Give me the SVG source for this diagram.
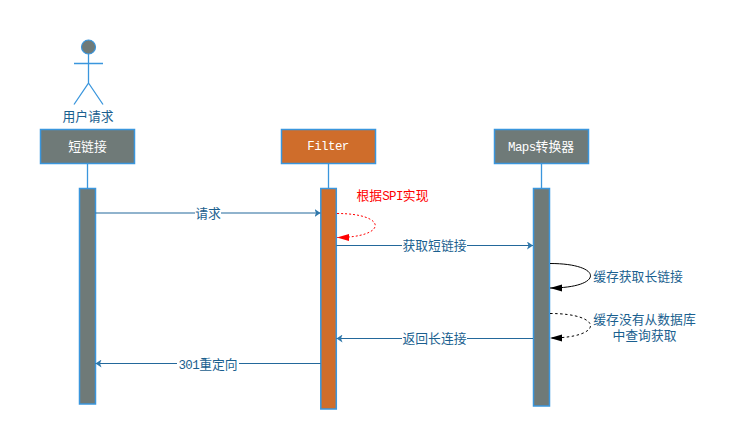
<svg xmlns="http://www.w3.org/2000/svg" width="742" height="447" viewBox="0 0 742 447">
<style>
text{font-family:"Liberation Mono","Noto Sans CJK SC",monospace;font-size:12.8px;text-anchor:middle}
.m{font-size:12.5px;letter-spacing:-0.6px}
.lb{fill:#1a5f8f}
.hd{fill:#fff}
.gr{fill:#6f7a78;stroke:#3a96dd;stroke-width:1.5}
.or{fill:#cf6d2b;stroke:#3a96dd;stroke-width:1.5}
.ll{stroke:#3a96dd;stroke-width:1.3;fill:none}
.msg{stroke:#23689b;stroke-width:1.2;fill:none;marker-end:url(#blue)}
.bg{fill:#fff}
</style>
<defs>
<marker id="blue" markerUnits="userSpaceOnUse" markerWidth="7" markerHeight="8" refX="6" refY="4" orient="auto"><path d="M0 0L6 4L0 8L1.5 4Z" fill="#2f78ab"/></marker>
<marker id="red" markerUnits="userSpaceOnUse" markerWidth="13" markerHeight="8" refX="12" refY="3.500" orient="auto"><path d="M0 0L12 3.500L0 7Z" fill="#f00"/></marker>
<marker id="blk" markerUnits="userSpaceOnUse" markerWidth="13" markerHeight="8" refX="12" refY="3.500" orient="auto"><path d="M0 0L12 3.500L0 7Z" fill="#000"/></marker>
</defs>
<g id="actor">
<circle cx="88.5" cy="47" r="7" fill="#6f7a78" stroke="#3a96dd" stroke-width="1.2"/>
<path class="ll" d="M74 63.5H103M88.5 54V83L74 104.5M88.5 83L103 104.5"/>
<text class="lb" x="88" y="120.500">用户请求</text>
</g>
<g id="node-short">
<line class="ll" x1="87.5" y1="163" x2="87.5" y2="188"/>
<rect class="gr" x="40.5" y="129.5" width="94" height="34"/>
<text class="hd" x="87.500" y="150.500">短链接</text>
<rect class="gr" x="79.5" y="188.5" width="16" height="215.500"/>
</g>
<g id="node-filter">
<line class="ll" x1="328.5" y1="163" x2="328.5" y2="188"/>
<rect class="or" x="281.5" y="129.5" width="94" height="34"/>
<text class="hd m" x="328" y="150">Filter</text>
<rect class="or" x="320.8" y="188.5" width="15.5" height="220.5"/>
</g>
<g id="node-maps">
<line class="ll" x1="541.5" y1="163" x2="541.5" y2="188"/>
<rect class="gr" x="494.5" y="129.5" width="94" height="34"/>
<text class="hd" x="541" y="150.500"><tspan class="m">Maps</tspan>转换器</text>
<rect class="gr" x="533.5" y="188.5" width="16" height="217.5"/>
</g>
<g id="connectors">
<line class="msg" x1="95.5" y1="213" x2="320.5" y2="213"/>
<line class="msg" x1="336.5" y1="245.5" x2="533" y2="245.5"/>
<line class="msg" x1="533" y1="338.5" x2="336.5" y2="338.5"/>
<line class="msg" x1="320.5" y1="363.5" x2="95.5" y2="363.5"/>
<path d="M337 213.5C388 213.5 388 237.5 337 237.5" fill="none" stroke="#f00" stroke-width="1" stroke-dasharray="2 2" marker-end="url(#red)"/>
<path d="M550 263.500C604 263.500 604 288 550 288" fill="none" stroke="#000" stroke-width="1" marker-end="url(#blk)"/>
<path d="M550 313.500C604 313.500 604 338 550 338" fill="none" stroke="#000" stroke-width="1" stroke-dasharray="2.5 2.5" marker-end="url(#blk)"/>
</g>
<g id="labels">
<rect class="bg" x="195" y="206" width="26" height="15"/>
<text class="lb" x="208" y="218">请求</text>
<rect class="bg" x="402" y="238" width="65" height="15"/>
<text class="lb" x="434.500" y="250">获取短链接</text>
<rect class="bg" x="402" y="331" width="65" height="15"/>
<text class="lb" x="434.500" y="343">返回长连接</text>
<rect class="bg" x="177" y="356" width="62" height="15"/>
<text class="lb" x="208" y="368.500"><tspan class="m">301</tspan>重定向</text>
<text x="392.500" y="199.500" fill="#f00">根据<tspan class="m">SPI</tspan>实现</text>
<text class="lb" x="638" y="281">缓存获取长链接</text>
<text class="lb" x="644.500" y="323.500">缓存没有从数据库</text>
<text class="lb" x="644.500" y="339.500">中查询获取</text>
</g>
</svg>
